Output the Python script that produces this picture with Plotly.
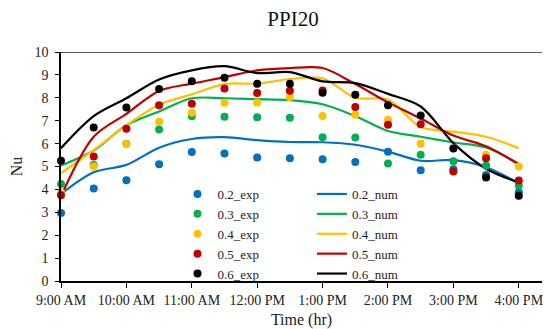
import plotly.graph_objects as go

# Half-hourly sampling times over the test day
times = ["09:00", "09:30", "10:00", "10:30", "11:00", "11:30", "12:00", "12:30",
         "13:00", "13:30", "14:00", "14:30", "15:00", "15:30", "16:00"]
day = "2021-01-01 "
x_times = [day + t for t in times]

# Hourly tick positions and their labels
tick_hours = ["09:00", "10:00", "11:00", "12:00", "13:00", "14:00", "15:00", "16:00"]
tick_labels = ["9:00 AM", "10:00 AM", "11:00 AM", "12:00 PM",
               "1:00 PM", "2:00 PM", "3:00 PM", "4:00 PM"]

# Experimental Nusselt numbers
exp_02 = [2.97, 4.04, 4.40, 5.10, 5.63, 5.57, 5.39, 5.36, 5.32, 5.20, 5.64, 4.84, 4.88, 4.63, 3.88]
exp_03 = [4.24, 5.07, 5.99, 6.62, 7.19, 7.17, 7.15, 7.13, 6.28, 6.27, 5.13, 5.51, 5.23, 5.04, 4.17]
exp_04 = [3.86, 5.00, 5.98, 6.95, 7.35, 7.78, 7.80, 8.02, 7.21, 7.26, 7.04, 5.99, 5.80, 5.51, 5.00]
exp_05 = [3.75, 5.44, 6.65, 7.68, 7.74, 8.41, 8.21, 8.31, 8.32, 7.60, 6.82, 6.85, 4.78, 5.36, 4.39]
exp_06 = [5.25, 6.70, 7.58, 8.38, 8.72, 8.88, 8.61, 8.61, 8.22, 8.13, 7.68, 7.23, 5.79, 4.52, 3.72]

# Numerical Nusselt numbers
num_02 = [3.80, 4.75, 5.07, 5.82, 6.20, 6.28, 6.15, 6.07, 6.06, 5.95, 5.65, 5.25, 5.28, 4.97, 4.27]
num_03 = [5.04, 5.70, 6.80, 7.40, 7.98, 7.98, 7.94, 7.90, 7.72, 7.20, 6.55, 6.30, 6.05, 5.83, 5.10]
num_04 = [4.71, 5.72, 6.80, 7.70, 8.15, 8.60, 8.62, 8.82, 8.85, 8.00, 7.92, 6.72, 6.52, 6.30, 5.80]
num_05 = [3.70, 6.30, 7.30, 8.30, 8.62, 8.90, 9.20, 9.30, 9.30, 8.60, 7.80, 7.10, 6.35, 5.88, 5.10]
num_06 = [5.80, 7.20, 7.98, 8.80, 9.20, 9.38, 9.08, 9.12, 8.72, 8.64, 8.17, 7.62, 6.02, 4.90, 4.30]

names = ["0.2", "0.3", "0.4", "0.5", "0.6"]
colors = ["#0070C0", "#00B050", "#FFC000", "#C00000", "#000000"]
exp_sets = [exp_02, exp_03, exp_04, exp_05, exp_06]
num_sets = [num_02, num_03, num_04, num_05, num_06]

FONT = "Liberation Serif, Times New Roman, serif"
TXT = "#222222"

fig = go.Figure()

# Smoothed numerical curves (drawn beneath the markers), listed in the second legend
for nm, col, ys in zip(names, colors, num_sets):
    fig.add_trace(go.Scatter(
        x=x_times, y=ys, mode="lines", name=f"{nm}_num",
        line=dict(color=col, width=2.2, shape="spline", smoothing=0.9),
        legend="legend2",
    ))

# Experimental points, listed in the first legend
for nm, col, ys in zip(names, colors, exp_sets):
    fig.add_trace(go.Scatter(
        x=x_times, y=ys, mode="markers", name=f"{nm}_exp",
        marker=dict(color=col, size=8, line=dict(width=0)),
        cliponaxis=False,
        legend="legend",
    ))

# Line along the top of the plotting area
fig.add_shape(type="line", xref="paper", yref="y", x0=0, x1=1, y0=10, y1=10,
              line=dict(color="#222222", width=1.3), layer="below")

# Plot area in pixels, used to place the legends
L, R, T, B = 61, 544, 52, 281


def px_x(p):
    return (p - L) / (R - L)


def px_y(p):
    return (B - p) / (B - T)


legend_common = dict(
    orientation="v", xref="paper", yref="paper", xanchor="left", yanchor="top",
    bgcolor="rgba(0,0,0,0)", borderwidth=0, traceorder="normal",
    font=dict(family=FONT, size=13, color=TXT),
)

fig.update_layout(
    width=544, height=329,
    margin=dict(l=L, r=544 - R, t=T, b=329 - B),
    paper_bgcolor="white", plot_bgcolor="white",
    font=dict(family=FONT, size=14, color=TXT),
    title=dict(text="PPI20", x=293 / 544, xanchor="center", y=1 - 19 / 329,
               yanchor="middle", font=dict(family=FONT, size=21, color="#111111")),
    showlegend=True,
    legend=dict(x=px_x(178), y=px_y(179), **legend_common),
    legend2=dict(x=px_x(313), y=px_y(179), **legend_common),
    xaxis=dict(
        type="date",
        range=[day + "09:00:00", day + "16:21:18"],
        tickvals=[day + t for t in tick_hours], ticktext=tick_labels,
        ticks="outside", ticklen=5, tickcolor="black", tickwidth=1,
        showline=True, linecolor="black", linewidth=1.5,
        showgrid=False, zeroline=False, ticklabeloverflow="allow",
        tickfont=dict(family=FONT, size=14, color=TXT),
        title=dict(text="Time (hr)", font=dict(family=FONT, size=16, color=TXT),
                   standoff=8),
    ),
    yaxis=dict(
        range=[0, 10], dtick=1,
        ticks="outside", ticklen=4, tickcolor="black", tickwidth=1,
        showline=True, linecolor="black", linewidth=1.5,
        showgrid=False, zeroline=False,
        tickfont=dict(family=FONT, size=14, color=TXT),
        ticklabelstandoff=4,
        title=dict(text="Nu", font=dict(family=FONT, size=16, color=TXT),
                   standoff=8),
    ),
)

fig.write_html("out.html")
